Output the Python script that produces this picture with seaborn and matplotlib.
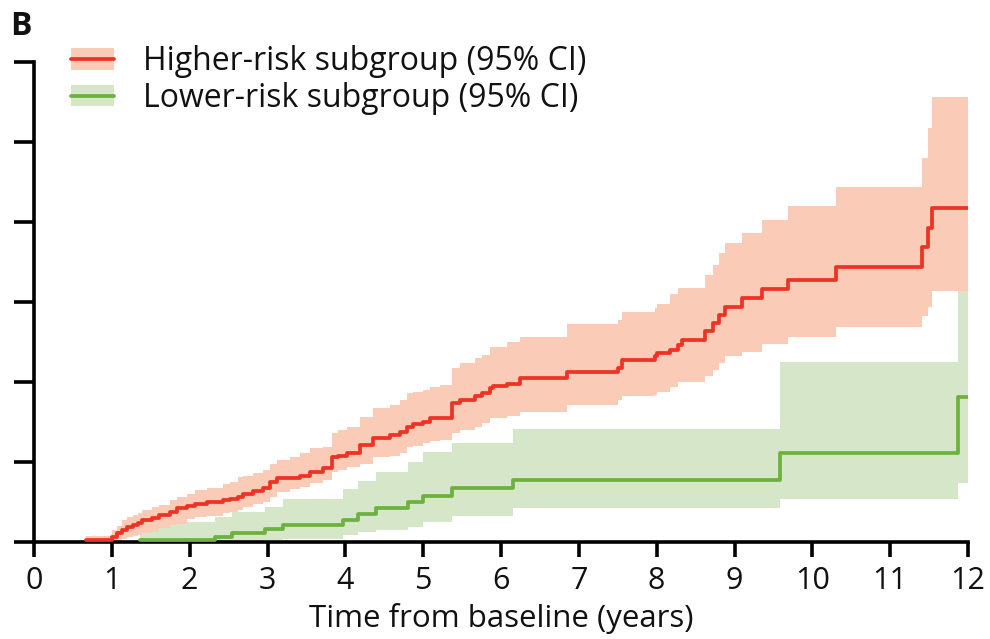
import numpy as np
import pandas as pd
import matplotlib
matplotlib.use("Agg")
import matplotlib.pyplot as plt
import seaborn as sns
from matplotlib.patches import Patch
from matplotlib.lines import Line2D
from matplotlib.legend_handler import HandlerTuple

# ---------------- data (cumulative incidence, arbitrary % units; y ticks unlabeled) ----------------
hr_time = [0.67, 0.87, 1.00, 1.06, 1.13, 1.19, 1.27, 1.34, 1.39, 1.52, 1.60, 1.75, 1.84, 1.96,
           2.07, 2.22, 2.43, 2.52, 2.62, 2.69, 2.82, 2.94, 3.03, 3.12, 3.29, 3.42, 3.55, 3.71,
           3.83, 3.90, 4.02, 4.19, 4.36, 4.57, 4.70, 4.79, 4.87, 5.00, 5.09, 5.22, 5.37, 5.47,
           5.67, 5.76, 5.86, 5.90, 6.08, 6.24, 6.85, 7.50, 7.55, 7.98, 8.00, 8.17, 8.27, 8.32,
           8.62, 8.73, 8.80, 8.88, 9.10, 9.35, 9.69, 10.30, 11.41, 11.49, 11.54, 12.00]
hr_est = [0.10, 0.15, 0.30, 0.55, 0.75, 0.95, 1.05, 1.20, 1.40, 1.50, 1.70, 1.90, 2.10, 2.25,
          2.40, 2.50, 2.60, 2.70, 2.80, 3.00, 3.20, 3.40, 3.75, 4.00, 4.00, 4.10, 4.40, 4.60,
          5.30, 5.40, 5.55, 6.05, 6.50, 6.70, 6.90, 7.20, 7.40, 7.50, 7.75, 7.75, 8.70, 8.90,
          9.10, 9.30, 9.60, 9.75, 9.90, 10.25, 10.60, 10.90, 11.40, 11.60, 11.80, 12.00, 12.30, 12.60,
          13.20, 13.70, 14.20, 14.70, 15.25, 15.80, 16.40, 17.20, 18.45, 19.60, 20.90, 20.90]
hr_lo = [0.00, 0.00, 0.02, 0.10, 0.20, 0.30, 0.35, 0.45, 0.55, 0.65, 0.85, 1.05, 1.15, 1.45,
         1.55, 1.60, 1.80, 1.90, 2.00, 2.20, 2.35, 2.50, 2.80, 3.10, 3.30, 3.45, 3.70, 3.90,
         4.40, 4.50, 4.70, 4.90, 5.30, 5.40, 5.55, 5.95, 6.00, 6.20, 6.30, 6.40, 6.80, 7.00,
         7.20, 7.45, 7.75, 7.75, 7.90, 8.10, 8.55, 8.90, 9.10, 9.20, 9.40, 9.70, 10.00, 10.00,
         10.40, 10.75, 11.20, 11.60, 11.90, 12.40, 12.80, 13.45, 14.10, 14.70, 15.70, 15.70]
hr_hi = [0.35, 0.40, 0.75, 1.00, 1.40, 1.55, 1.70, 1.80, 2.00, 2.20, 2.30, 2.60, 2.80, 3.00,
         3.25, 3.40, 3.60, 3.75, 4.05, 4.10, 4.30, 4.50, 4.90, 5.10, 5.30, 5.55, 5.90, 5.95,
         6.80, 7.00, 7.20, 7.80, 8.40, 8.55, 8.90, 9.30, 9.35, 9.50, 9.70, 9.80, 10.90, 11.20,
         11.50, 11.70, 12.20, 12.20, 12.50, 12.80, 13.60, 13.90, 14.40, 14.60, 14.90, 15.50, 15.90, 15.90,
         16.70, 17.30, 18.05, 18.70, 19.30, 20.10, 21.00, 22.20, 24.00, 25.90, 27.80, 27.80]

lr_time = [1.36, 2.33, 2.54, 2.97, 3.20, 3.97, 4.16, 4.40, 4.80, 5.00, 5.37, 6.15, 9.58, 11.87, 12.00]
lr_est = [0.12, 0.30, 0.55, 0.80, 1.05, 1.40, 1.75, 2.10, 2.50, 2.90, 3.40, 3.90, 5.55, 9.05, 9.05]
lr_lo = [0.00, 0.00, 0.00, 0.10, 0.20, 0.45, 0.60, 0.75, 0.95, 1.25, 1.65, 2.10, 2.70, 3.70, 3.70]
lr_hi = [1.27, 1.55, 1.90, 2.20, 2.70, 3.30, 3.80, 4.40, 5.00, 5.60, 6.20, 7.06, 11.25, 21.60, 21.60]

groups = ["Higher-risk subgroup (95% CI)", "Lower-risk subgroup (95% CI)"]
x_ticks = list(range(0, 13))
y_ticks = [0, 5, 10, 15, 20, 25, 30]

RED = "#EE3224"
RED_BAND = "#FACBB6"
GREEN = "#6CB23E"
GREEN_BAND = "#D6E6C8"
INK = "#111111"

# ---------------- plot ----------------
sns.set_theme(style="ticks")
plt.rcParams["font.family"] = ["Open Sans", "DejaVu Sans"]

W, H = 990, 639
fig = plt.figure(figsize=(W / 100, H / 100), dpi=100)
ax = fig.add_axes([34 / W, 1 - 542 / H, (968 - 34) / W, (542 - 62) / H])

ax.fill_between(lr_time, lr_lo, lr_hi, step="post", color=GREEN_BAND, lw=0, zorder=1)
ax.fill_between(hr_time, hr_lo, hr_hi, step="post", color=RED_BAND, lw=0, zorder=1.5)

df = pd.concat([
    pd.DataFrame({"time": hr_time, "risk": hr_est, "group": groups[0]}),
    pd.DataFrame({"time": lr_time, "risk": lr_est, "group": groups[1]}),
])
sns.lineplot(data=df, x="time", y="risk", hue="group", hue_order=[groups[1], groups[0]],
             palette={groups[0]: RED, groups[1]: GREEN}, estimator=None, sort=False,
             drawstyle="steps-post", linewidth=2.7, legend=False, ax=ax, zorder=3)

ax.set_xlim(0, 12)
ax.set_ylim(0, 30)
ax.set_xticks(x_ticks)
ax.set_xticklabels([str(t) for t in x_ticks])
ax.set_yticks(y_ticks)
ax.set_yticklabels([])
ax.set_ylabel("")
ax.set_xlabel("Time from baseline (years)", fontsize=22.5, color=INK, labelpad=5)

sns.despine(ax=ax)
for s in ["left", "bottom"]:
    ax.spines[s].set_linewidth(2.6)
    ax.spines[s].set_color("black")
    ax.spines[s].set_zorder(2.5)
ax.tick_params(axis="x", length=11, width=2.6, color="black", labelsize=22,
               labelcolor=INK, pad=6, direction="out")
ax.tick_params(axis="y", length=14.5, width=2.6, color="black", direction="out")

handles = [
    (Patch(facecolor=RED_BAND, edgecolor="none"), Line2D([], [], color=RED, lw=2.7)),
    (Patch(facecolor=GREEN_BAND, edgecolor="none"), Line2D([], [], color=GREEN, lw=2.7)),
]
fig.legend(handles, groups, loc="upper left", bbox_to_anchor=(71 / W, 1 - 45 / H),
           frameon=False, fontsize=23, handlelength=1.35, handleheight=0.66,
           handletextpad=0.9, labelspacing=0.12, borderpad=0, borderaxespad=0,
           handler_map={tuple: HandlerTuple(ndivide=1)}, labelcolor=INK)

fig.text(10 / W, 1 - 35 / H, "B", fontsize=23, fontweight="bold", color=INK, va="baseline")

fig.savefig("out.png", dpi=100)
